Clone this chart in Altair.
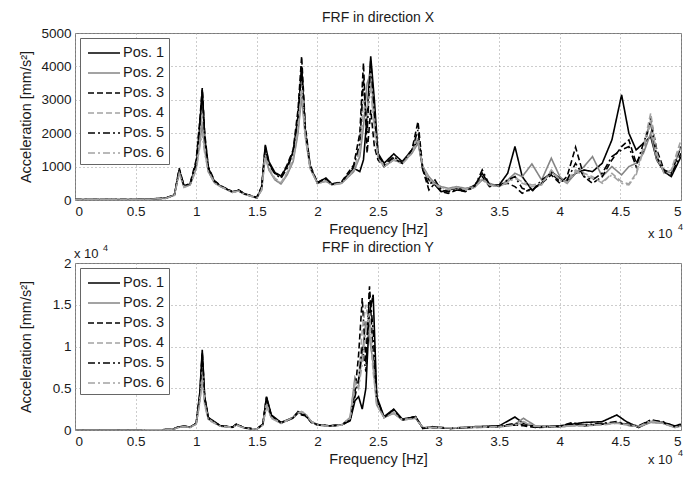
import altair as alt
import pandas as pd

SERIES = ["Pos. 1", "Pos. 2", "Pos. 3", "Pos. 4", "Pos. 5", "Pos. 6"]
COLORS = ["#000000", "#858585", "#000000", "#a3a3a3", "#000000", "#a3a3a3"]
DASHES = [[1, 0], [1, 0], [6, 3], [6, 3], [7, 3, 2, 3], [7, 3, 2, 3]]

# frequency grid, units of 1e4 Hz (top panel: direction X)
FX = [0, 0.3, 0.6, 0.75, 0.82, 0.86, 0.9, 0.95, 1.0, 1.03, 1.05, 1.07, 1.1, 1.15, 1.2, 1.3, 1.35, 1.4, 1.5,
      1.54, 1.57, 1.6, 1.65, 1.7, 1.75, 1.8, 1.84, 1.87, 1.9, 1.94, 2.0, 2.07, 2.12, 2.2, 2.3, 2.35, 2.38,
      2.41, 2.44, 2.47, 2.5, 2.55, 2.63, 2.7, 2.78, 2.83, 2.87, 2.92, 2.97, 3.02, 3.08, 3.15, 3.22, 3.3,
      3.36, 3.42, 3.5, 3.57, 3.63, 3.69, 3.77, 3.85, 3.93, 4.0, 4.06, 4.13, 4.2, 4.27, 4.35, 4.43, 4.51,
      4.57, 4.63, 4.69, 4.75, 4.8, 4.86, 4.92, 5.0]

X_POS1 = [10, 10, 20, 60, 150, 900, 420, 480, 1100, 2200, 3300, 1900, 950, 560, 420, 240, 290, 180, 70,
          350, 1650, 1150, 820, 720, 1000, 1450, 2500, 4000, 2100, 1000, 520, 660, 470, 520, 950, 850, 1200,
          2500, 4300, 3000, 1400, 1100, 1380, 1150, 1500, 1800, 900, 600, 450, 250, 300, 350, 300, 450,
          800, 450, 450, 800, 1600, 700, 300, 500, 850, 650, 550, 800, 900, 850, 1100, 1800, 3150,
          2000, 1500, 1700, 1900, 1200, 850, 700, 1300]
X_POS2 = [10, 10, 20, 50, 150, 850, 400, 450, 950, 1700, 2300, 1500, 850, 520, 400, 230, 270, 170, 60,
          300, 1300, 900, 600, 480, 750, 1150, 2000, 3100, 1900, 950, 500, 560, 460, 500, 850, 1300, 2200,
          3500, 3800, 2500, 1300, 1000, 1200, 1100, 1400, 1700, 1000, 700, 500, 400, 350, 400, 350, 400,
          600, 500, 400, 600, 800, 700, 1080, 600, 1250, 700, 500, 800, 1000, 1300, 700, 1000, 750,
          1000, 1100, 1400, 2000, 1200, 900, 800, 1600]
X_POS3 = [10, 10, 20, 60, 150, 950, 420, 500, 1200, 2400, 3350, 2000, 1000, 580, 430, 250, 300, 190, 80,
          400, 1600, 1100, 800, 700, 1050, 1500, 2700, 4300, 2200, 1050, 520, 640, 480, 550, 1050, 2000, 4100,
          1400, 2700, 1600, 1200, 1000, 1250, 1100, 1500, 2350, 900, 300, 500, 250, 200, 300, 250, 400,
          700, 400, 450, 500, 400, 200, 350, 500, 750, 500, 700, 1580, 700, 500, 700, 1200, 1600,
          1800, 1100, 1500, 2450, 1500, 900, 800, 1600]
X_POS4 = [10, 10, 20, 50, 140, 800, 380, 460, 1000, 1900, 2600, 1600, 880, 530, 410, 230, 270, 170, 60,
          320, 1400, 950, 650, 520, 820, 1250, 2200, 3600, 2000, 980, 500, 580, 460, 510, 900, 1500, 3000,
          2400, 3600, 2200, 1300, 1000, 1200, 1100, 1450, 1900, 950, 600, 450, 350, 300, 380, 300, 380,
          650, 450, 400, 550, 700, 500, 400, 450, 900, 600, 550, 900, 800, 700, 500, 800, 550,
          480, 800, 1600, 2600, 1400, 800, 900, 1800]
X_POS5 = [10, 10, 20, 60, 150, 900, 400, 470, 1100, 2300, 3200, 1900, 950, 560, 420, 240, 280, 180, 70,
          380, 1550, 1050, 780, 650, 950, 1400, 2500, 3900, 2100, 1000, 510, 620, 470, 530, 1000, 1700, 3600,
          2000, 4200, 2600, 1350, 1050, 1300, 1100, 1500, 2100, 900, 450, 600, 300, 250, 300, 280, 420,
          900, 450, 420, 600, 700, 350, 250, 600, 800, 550, 600, 1100, 700, 600, 800, 1300, 1500,
          1600, 1000, 1700, 2300, 1300, 850, 750, 1400]
X_POS6 = [10, 10, 20, 50, 140, 800, 380, 450, 900, 1600, 2000, 1400, 850, 510, 400, 230, 270, 170, 60,
          300, 1350, 900, 620, 500, 780, 1200, 2100, 3300, 1900, 950, 490, 560, 450, 500, 880, 1400, 2600,
          2800, 3300, 2100, 1250, 1000, 1200, 1080, 1400, 1800, 1000, 650, 480, 380, 320, 380, 320, 400,
          600, 450, 420, 520, 650, 550, 450, 500, 850, 600, 500, 850, 750, 650, 550, 750, 500,
          450, 750, 1500, 2400, 1350, 800, 850, 1700]

# bottom panel: direction Y
FY = [0, 0.5, 0.8, 0.85, 0.9, 0.95, 1.0, 1.03, 1.05, 1.07, 1.1, 1.2, 1.3, 1.33, 1.4, 1.5, 1.55, 1.58, 1.62,
      1.7, 1.8, 1.84, 1.87, 1.9, 1.95, 2.0, 2.1, 2.2, 2.27, 2.31, 2.34, 2.37, 2.4, 2.43, 2.46, 2.49, 2.55,
      2.63, 2.7, 2.81, 2.87, 2.95, 3.1, 3.3, 3.5, 3.63, 3.7, 3.8, 4.0, 4.1, 4.2, 4.35, 4.47, 4.55, 4.65,
      4.75, 4.85, 4.95, 5.0]

Y_POS1 = [0, 0, 50, 350, 450, 350, 800, 4500, 9600, 4000, 1500, 500, 350, 700, 250, 100, 700, 4000, 1800,
          900, 1500, 2200, 1900, 1800, 1000, 650, 500, 600, 1100, 3500, 4000, 2500, 5000, 14000, 16200, 4000, 1600,
          2500, 1300, 1600, 200, 400, 200, 400, 500, 1550, 800, 400, 500, 700, 900, 1000, 1800, 1000, 300,
          1000, 900, 500, 700]
Y_POS2 = [0, 0, 50, 300, 400, 300, 700, 3500, 6500, 3200, 1300, 450, 300, 600, 220, 100, 600, 3000, 1500,
          800, 1500, 2000, 2200, 1900, 1000, 600, 450, 600, 1500, 6300, 5500, 9000, 13000, 11000, 8000, 3000, 1500,
          2000, 1200, 1400, 300, 300, 250, 350, 400, 700, 1400, 500, 400, 500, 600, 700, 900, 700, 400,
          900, 800, 300, 500]
Y_POS3 = [0, 0, 50, 350, 450, 350, 800, 4200, 9000, 3800, 1400, 500, 350, 650, 250, 100, 700, 3800, 1700,
          850, 1400, 2100, 1800, 1700, 900, 600, 500, 600, 1300, 4500, 9000, 15800, 8000, 17200, 9000, 3500, 1500,
          2400, 1200, 1600, 200, 300, 200, 300, 400, 600, 500, 300, 400, 900, 500, 700, 900, 600, 400,
          1200, 900, 400, 600]
Y_POS4 = [0, 0, 50, 300, 420, 320, 750, 3800, 7000, 3300, 1300, 450, 320, 620, 230, 100, 650, 3200, 1500,
          800, 1500, 2100, 2100, 1900, 1000, 600, 450, 600, 1400, 5500, 6000, 12000, 15000, 12500, 7000, 3000, 1500,
          2100, 1200, 1500, 300, 300, 250, 300, 350, 600, 900, 400, 350, 500, 500, 600, 800, 600, 400,
          1000, 800, 300, 500]
Y_POS5 = [0, 0, 50, 350, 450, 350, 800, 4300, 9300, 3900, 1450, 500, 350, 680, 250, 100, 700, 3900, 1700,
          850, 1450, 2200, 1900, 1750, 950, 620, 500, 600, 1200, 4000, 6000, 10000, 7000, 16500, 12000, 3800, 1500,
          2400, 1200, 1600, 200, 350, 200, 350, 450, 800, 600, 350, 450, 800, 600, 800, 1000, 700, 500,
          1200, 1000, 400, 600]
Y_POS6 = [0, 0, 50, 300, 400, 300, 700, 3300, 6000, 3000, 1200, 450, 300, 600, 220, 100, 600, 2900, 1400,
          800, 1500, 2000, 2200, 2000, 1000, 600, 450, 600, 1500, 6000, 5000, 8000, 12000, 14000, 7500, 3000, 1500,
          2000, 1200, 1400, 300, 300, 250, 350, 400, 600, 1000, 450, 400, 500, 550, 650, 850, 650, 400,
          1100, 800, 300, 500]

X_SERIES = [X_POS1, X_POS2, X_POS3, X_POS4, X_POS5, X_POS6]
Y_SERIES = [Y_POS1, Y_POS2, Y_POS3, Y_POS4, Y_POS5, Y_POS6]


def table(freqs, series):
    rows = []
    for name, vals in zip(SERIES, series):
        for f, v in zip(freqs, vals):
            rows.append({"freq": f * 10000, "acc": v, "series": name})
    return pd.DataFrame(rows)


FONT = "Liberation Sans"
TXT = "#1a1a1a"
W, H, GAP = 606, 167, 63
GRID = dict(gridDash=[1, 3], gridColor="#9a9a9a", gridOpacity=1, domain=False, ticks=False,
            labelFont=FONT, titleFont=FONT, labelFontSize=13.5, titleFontSize=14.5,
            labelColor=TXT, titleColor=TXT, titleFontWeight="normal", labelFontWeight="normal")

LEG = dict(title=None, orient="top-left", offset=5, symbolType="M-1.6,0H1.6",
           symbolSize=400, symbolStrokeWidth=1.5, symbolOffset=9, labelOffset=8,
           labelFontSize=14.5, labelFont=FONT, labelColor=TXT, padding=4, rowPadding=2,
           fillColor="white", strokeColor="#666666")


def text_layer(txt, x, y, size):
    return alt.Chart(pd.DataFrame({"t": [txt]})).mark_text(
        font=FONT, fontSize=size, color=TXT, align="left", baseline="middle"
    ).encode(x=alt.value(x), y=alt.value(y), text="t:N")


def panel(df, ymax, ystep, ylabel_expr, title, extra, exp_dy):
    x_axis = alt.Axis(values=list(range(0, 50001, 5000)), labelExpr="datum.value / 10000 + ''",
                      title="Frequency [Hz]", labelPadding=4, titlePadding=5, **GRID)
    y_axis = alt.Axis(values=list(range(0, ymax + 1, ystep)), labelExpr=ylabel_expr,
                      title="Acceleration [mm/s²]", labelPadding=4,
                      titleX=-49, titleY=H / 2, titleAngle=270, titleAlign="center",
                      titleBaseline="middle", **GRID)
    lines = alt.Chart(df).mark_line(strokeWidth=1.6, clip=True).encode(
        x=alt.X("freq:Q", scale=alt.Scale(domain=[0, 50000], nice=False), axis=x_axis),
        y=alt.Y("acc:Q", scale=alt.Scale(domain=[0, ymax], nice=False), axis=y_axis),
        color=alt.Color("series:N", scale=alt.Scale(domain=SERIES, range=COLORS),
                        legend=alt.Legend(**LEG)),
        strokeDash=alt.StrokeDash("series:N", scale=alt.Scale(domain=SERIES, range=DASHES),
                                  legend=alt.Legend(**LEG)),
        order=alt.Order("series:N"),
    )
    layers = [lines, text_layer("x 10", W - 33, H + exp_dy, 13), text_layer("4", W - 3, H + exp_dy - 7, 9)]
    if extra:
        # exponent label of the lower panel's y axis (drawn just above the lower panel)
        layers += [text_layer("x 10", -1, H + GAP - 9, 13), text_layer("4", 28, H + GAP - 15, 9)]
    return alt.layer(*layers).properties(
        width=W, height=H,
        title=alt.TitleParams(title, frame="group", offset=1, fontSize=14, font=FONT,
                              fontWeight="normal", color=TXT, anchor="middle"))


top = panel(table(FX, X_SERIES), 5000, 1000, "datum.value + ''", "FRF in direction X", True, 34)
bottom = panel(table(FY, Y_SERIES), 20000, 5000, "datum.value / 10000 + ''", "FRF in direction Y", False, 30)

chart = alt.vconcat(top, bottom, spacing=GAP, bounds="flush").resolve_legend(
    color="independent", strokeDash="independent"
).properties(
    padding={"left": 9, "top": 2, "right": 0, "bottom": 0}, background="white"
).configure_view(stroke="#7a7a7a", strokeWidth=1)

chart.save("out.html", embed_options={"renderer": "svg", "actions": False})
